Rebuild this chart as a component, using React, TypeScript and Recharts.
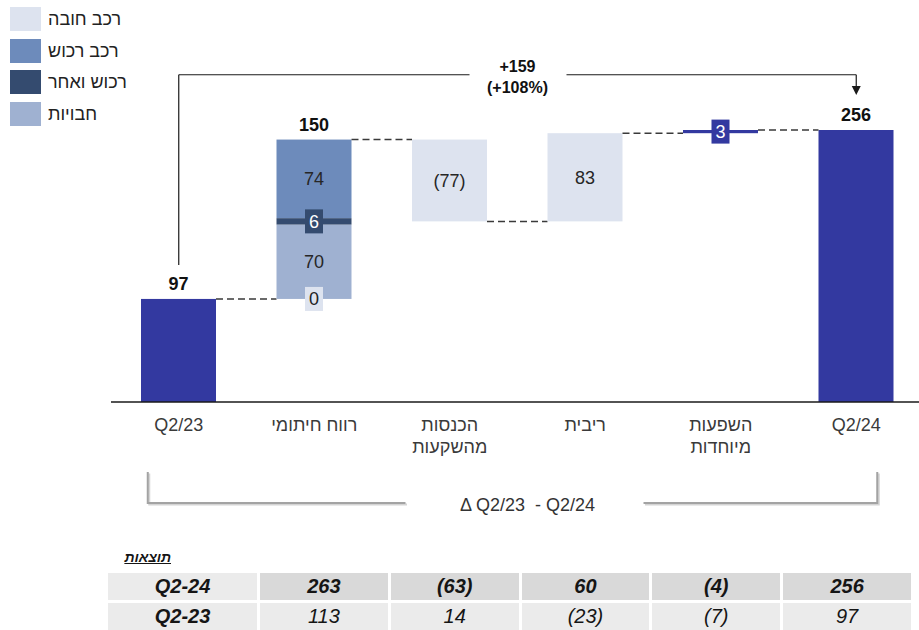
import React from "react";
import { Bar, ComposedChart, LabelList, ReferenceLine, XAxis, YAxis } from "recharts";

// categories along the bridge, left to right
const categories = ["Q2/23", "רווח חיתומי", "הכנסות\nמהשקעות", "ריבית", "השפעות\nמיוחדות", "Q2/24"];

// opening / closing balances
const totals = [97, null, null, null, null, 256];

// movements, stacked bottom -> top inside a category (negative = goes down)
const carMandatory = [null, 0, -77, 83, null, null];
const liabilities = [null, 70, null, null, null, null];
const propertyOther = [null, 6, null, null, null, null];
const carProperty = [null, 74, null, null, null, null];
const special = [null, null, null, null, 3, null];

// bracket annotation
const changeLines = ["+159", "(+108%)"];
const periodLabel = "Δ Q2/23  - Q2/24";

// results table under the chart
const tableTitle = "תוצאות";
const rowLabels = ["Q2-24", "Q2-23"];
const resultsQ224 = [263, -63, 60, -4, 256];
const resultsQ223 = [113, 14, -23, -7, 97];

const FONT = '"Liberation Sans", "DejaVu Sans", Arial, sans-serif';
const CHART_W = 924;
const CHART_H = 520;
const MARGIN = { top: 62, right: 0, bottom: 0, left: 111 };
const STEP = (CHART_W - MARGIN.left - MARGIN.right) / categories.length;
const BAR = 75;
const Y_MAX = 320;
const BRACKET_LEVEL = 308;

interface Series {
  key: string;
  name: string;
  values: (number | null)[];
  color: string;
  dark: boolean;
}

const totalSeries: Series = { key: "total", name: "", values: totals, color: "#3339a0", dark: true };
const segments: Series[] = [
  { key: "carMandatory", name: "רכב חובה", values: carMandatory, color: "#dde3ef", dark: false },
  { key: "liabilities", name: "חבויות", values: liabilities, color: "#9fb1d1", dark: false },
  { key: "propertyOther", name: "רכוש ואחר", values: propertyOther, color: "#344b6f", dark: true },
  { key: "carProperty", name: "רכב רכוש", values: carProperty, color: "#6d8bbb", dark: false },
  { key: "special", name: "", values: special, color: "#3339a0", dark: true },
];
const legendOrder = ["carMandatory", "carProperty", "propertyOther", "liabilities"];

// running levels -> range bars
const owner: string[] = [];
const linkAtBottom: boolean[] = [];
const headline: (number | null)[] = [];
const rows: any[] = [];
let level = 0;
categories.forEach((name, i) => {
  const row: any = { name, idx: i };
  const t = totals[i];
  if (t != null) {
    level = t;
    row.total = [0, t];
    owner[i] = "total";
    linkAtBottom[i] = false;
    headline[i] = t;
  } else {
    let sum = 0;
    let count = 0;
    for (const s of segments) {
      const v = s.values[i];
      if (v == null) continue;
      const next = level + v;
      row[s.key] = [Math.min(level, next), Math.max(level, next)];
      if (v !== 0) {
        owner[i] = s.key;
        linkAtBottom[i] = v < 0;
      }
      level = next;
      sum += v;
      count++;
    }
    headline[i] = count > 1 ? sum : null;
  }
  rows.push(row);
});

const fmt = (v: number) => (v < 0 ? `(${Math.abs(v)})` : String(v));

const makeShape = (s: Series) => (props: any) => {
  const { x, y, width, height, payload } = props;
  const i = payload?.idx ?? props.index;
  const h = Math.abs(height || 0);
  const top = height < 0 ? y + height : y;
  return (
    <g>
      {h > 0 && <rect x={x} y={top} width={width} height={h} fill={s.color} />}
      {owner[i] === s.key && i < categories.length - 1 && (
        <line
          x1={x + width}
          x2={x + STEP}
          y1={linkAtBottom[i] ? top + h : top}
          y2={linkAtBottom[i] ? top + h : top}
          stroke="#3a3a3a"
          strokeWidth={1.5}
          strokeDasharray="7 4"
        />
      )}
    </g>
  );
};

const makeLabel = (s: Series) => (props: any) => {
  const i = Number(props.value);
  if (!Number.isFinite(i) || rows[i]?.[s.key] == null) return null;
  const vb = props.viewBox || props;
  const h = Math.abs(vb.height || 0);
  const top = vb.height < 0 ? vb.y + vb.height : vb.y;
  const cx = vb.x + vb.width / 2;
  const cy = top + h / 2;
  const out: React.ReactNode[] = [];
  if (s.key !== "total") {
    const v = s.values[i] as number;
    if (h < 22) {
      out.push(
        <g key="box">
          <rect x={cx - 9} y={cy - 12} width={18} height={24} fill={s.color} />
          <text x={cx} y={cy} dy="0.36em" textAnchor="middle" fontSize={18} fill={s.dark ? "#fff" : "#222"}>
            {fmt(v)}
          </text>
        </g>
      );
    } else {
      out.push(
        <text key="in" x={cx} y={cy} dy="0.36em" textAnchor="middle" fontSize={18} fill="#262626">
          {fmt(v)}
        </text>
      );
    }
  }
  const hl = headline[i];
  if (owner[i] === s.key && hl != null) {
    out.push(
      <text key="hl" x={cx} y={top - 9} textAnchor="middle" fontSize={18} fontWeight="bold" fill="#111">
        {fmt(hl)}
      </text>
    );
  }
  return <g style={{ fontFamily: FONT }}>{out}</g>;
};

const CategoryTick = (props: any) => {
  const { x, y, payload } = props;
  const lines = String(payload.value).split("\n");
  return (
    <g transform={`translate(${x},${y})`}>
      {lines.map((l, k) => (
        <text key={k} x={0} y={21 + k * 22} textAnchor="middle" fontSize={18} fill="#3a3a3a" fontFamily={FONT}>
          {l}
        </text>
      ))}
    </g>
  );
};

const ChangeBracket = (props: any) => {
  const { x1, x2, y1 } = props;
  const mid = (x1 + x2) / 2;
  return (
    <g>
      <line x1={x1} x2={mid - 48} y1={y1} y2={y1} stroke="#1a1a1a" strokeWidth={1.2} />
      <line x1={mid + 49} x2={x2} y1={y1} y2={y1} stroke="#1a1a1a" strokeWidth={1.2} />
      <text x={mid} y={y1 - 3} textAnchor="middle" fontSize={16} fontWeight="bold" fill="#111" fontFamily={FONT}>
        {changeLines[0]}
      </text>
      <text x={mid} y={y1 + 18} textAnchor="middle" fontSize={16} fontWeight="bold" fill="#111" fontFamily={FONT}>
        {changeLines[1]}
      </text>
    </g>
  );
};

const ArrowDown = (props: any) => {
  const { x1, y1, y2 } = props;
  return (
    <g>
      <line x1={x1} x2={x1} y1={y1} y2={y2 - 8} stroke="#1a1a1a" strokeWidth={1.2} />
      <polygon points={`${x1 - 4.5},${y2 - 9} ${x1 + 4.5},${y2 - 9} ${x1},${y2}`} fill="#1a1a1a" />
    </g>
  );
};

const PeriodBracket = (props: any) => {
  const { x1, x2, y1 } = props;
  const left = x1 - 31;
  const right = x2 + 21;
  const mid = (x1 + x2) / 2;
  const gapL = mid - 112;
  const gapR = mid + 126;
  const path = (dx: number, dy: number) =>
    `M${left + dx},${y1 - 31 + dy} V${y1 + dy} H${gapL + dx} M${gapR + dx},${y1 + dy} H${right + dx} V${y1 - 31 + dy}`;
  return (
    <g>
      <path d={path(1.5, 1.5)} fill="none" stroke="#d4d4d4" strokeWidth={2} />
      <path d={path(0, 0)} fill="none" stroke="#a3a3a3" strokeWidth={2} />
      <text
        x={mid + 10}
        y={y1 + 8}
        textAnchor="middle"
        fontSize={18}
        fill="#333"
        fontFamily={FONT}
        style={{ whiteSpace: "pre" }}
      >
        {periodLabel}
      </text>
    </g>
  );
};

const drawOrder: Series[] = [
  totalSeries,
  segments[1], // liabilities
  segments[3], // carProperty
  segments[2], // propertyOther
  segments[4], // special
  segments[0], // carMandatory
];

export default function App() {
  const first = categories[0];
  const last = categories[categories.length - 1];
  const cellBase: React.CSSProperties = {
    height: 27,
    display: "flex",
    alignItems: "center",
    justifyContent: "center",
    fontStyle: "italic",
    fontSize: 20,
    color: "#151515",
  };
  const tableData = [resultsQ224, resultsQ223];
  return (
    <div
      style={{
        position: "absolute",
        left: 0,
        top: 0,
        width: 919,
        height: 630,
        overflow: "hidden",
        background: "#fff",
        fontFamily: FONT,
      }}
    >
      <div style={{ position: "absolute", left: 0, top: 0 }}>
        <ComposedChart width={CHART_W} height={CHART_H} data={rows} margin={MARGIN} barSize={BAR} barGap={-BAR}>
          <XAxis
            dataKey="name"
            interval={0}
            height={CHART_H - 402}
            tickLine={false}
            axisLine={{ stroke: "#1a1a1a", strokeWidth: 1.5 }}
            tick={<CategoryTick />}
          />
          <YAxis hide domain={[0, Y_MAX]} allowDataOverflow />
          {drawOrder.map((s) => (
            <Bar key={s.key} dataKey={s.key} isAnimationActive={false} shape={makeShape(s)}>
              <LabelList dataKey="idx" content={makeLabel(s)} />
            </Bar>
          ))}
          <ReferenceLine
            segment={[
              { x: first, y: (totals[0] as number) + 32 },
              { x: first, y: BRACKET_LEVEL },
            ]}
            stroke="#1a1a1a"
            strokeWidth={1.2}
          />
          <ReferenceLine
            segment={[
              { x: first, y: BRACKET_LEVEL },
              { x: last, y: BRACKET_LEVEL },
            ]}
            shape={ChangeBracket}
          />
          <ReferenceLine
            segment={[
              { x: last, y: BRACKET_LEVEL },
              { x: last, y: (totals[5] as number) + 33 },
            ]}
            shape={ArrowDown}
          />
          <ReferenceLine
            ifOverflow="visible"
            segment={[
              { x: first, y: -95 },
              { x: last, y: -95 },
            ]}
            shape={PeriodBracket}
          />
        </ComposedChart>
      </div>

      {/* legend */}
      <div style={{ position: "absolute", left: 10, top: 3 }}>
        {legendOrder.map((k) => {
          const s = segments.find((x) => x.key === k)!;
          return (
            <div key={k} style={{ display: "flex", alignItems: "center", height: 31.8 }}>
              <span style={{ display: "inline-block", width: 31, height: 24, background: s.color }} />
              <span style={{ marginLeft: 7, fontSize: 18, color: "#222", lineHeight: "24px" }}>{s.name}</span>
            </div>
          );
        })}
      </div>

      {/* results table */}
      <div
        style={{
          position: "absolute",
          right: 919 - 171,
          top: 549,
          fontSize: 14,
          fontWeight: "bold",
          fontStyle: "italic",
          textDecoration: "underline",
          direction: "rtl",
          color: "#151515",
        }}
      >
        {tableTitle}
      </div>
      <div
        style={{
          position: "absolute",
          left: 108,
          top: 573,
          display: "grid",
          gridTemplateColumns: "149px repeat(5, 127.8px)",
          columnGap: 3,
          rowGap: 3,
        }}
      >
        {tableData.map((vals, r) => (
          <React.Fragment key={r}>
            <div style={{ ...cellBase, background: "#ebebeb", fontWeight: "bold" }}>{rowLabels[r]}</div>
            {vals.map((v, c) => (
              <div
                key={c}
                style={{
                  ...cellBase,
                  background: r === 0 ? "#d9d9d9" : "#ebebeb",
                  fontWeight: r === 0 ? "bold" : "normal",
                }}
              >
                {fmt(v)}
              </div>
            ))}
          </React.Fragment>
        ))}
      </div>
    </div>
  );
}
